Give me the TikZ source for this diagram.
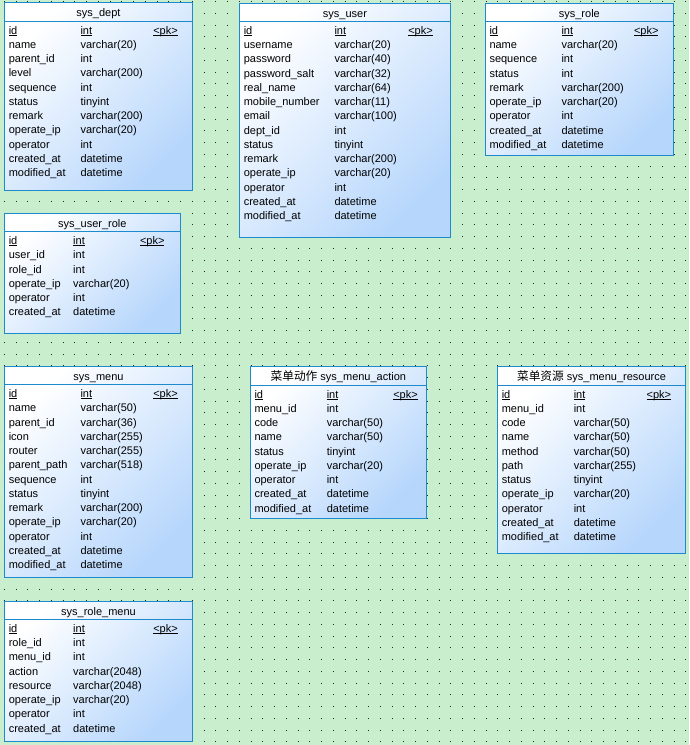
\documentclass[tikz,border=0pt]{standalone}
\usepackage{fontspec}
\setmainfont{Liberation Sans}
\newfontfamily\cjk{Noto Sans CJK SC}
\definecolor{bggreen}{RGB}{200,238,205}
\definecolor{tblblue}{RGB}{28,138,205}
\definecolor{tblfill}{RGB}{182,214,252}
\newcommand\ulx[1]{\setbox0\hbox{#1}\rlap{\rule[-1.6pt]{\wd0}{0.9pt}}\box0}
\tikzset{
  tbl/.style={draw=tblblue, line width=1pt, top color=white, bottom color=tblfill, shading angle=45, inner sep=0pt, outer sep=0pt},
  tblline/.style={draw=tblblue, line width=1pt},
  cell/.style={inner sep=0pt, outer sep=0pt, anchor=base west, font=\fontsize{11}{12}\selectfont, text=black},
  hdr/.style={inner sep=0pt, outer sep=0pt, anchor=base, font=\fontsize{11}{12}\selectfont, text=black},
  gridline/.style={line width=1pt, draw=black!85, dash pattern=on 1pt off 10.75pt}
}
\newcommand\ertable[9]{%
  \node[tbl, minimum width={#4-#2}, minimum height={#5-#3}, anchor=north west] (#1) at (#2,#3) {};
  \draw[tblline] (#2,{#3+18.5}) -- (#4,{#3+18.5});
  \node[hdr] (#1-h) at ({(#2+#4)/2},{#3+14}) {#6};
  \node[cell] (#1-n0) at ({#2+4.5},{#3+31.3}) {\ulx{id}};
  \node[cell] (#1-t0) at ({#7-0.5},{#3+31.3}) {\ulx{int}};
  \node[cell] (#1-k0) at ({#8},{#3+31.3}) {\ulx{<pk>}};
  \foreach \n/\t [count=\i] in {#9} {
    \node[cell] (#1-n\i) at ({#2+4.5},{#3+31.3+14.25*\i}) {\n};
    \node[cell] (#1-t\i) at ({#7-0.5},{#3+31.3+14.25*\i}) {\t};
  }%
}
\begin{document}
\begin{tikzpicture}[x=1pt,y=-1pt]
\fill[bggreen] (0,0) rectangle (689,745);
\useasboundingbox (0,0) rectangle (689,745);
\foreach \j in {0,...,63} {
  \draw[gridline] (3.8,{1.55+11.75*\j}) -- (689,{1.55+11.75*\j});
}
\ertable{dept}{4.3}{2.7}{192.7}{190.7}{sys\_dept}{81}{153.3}{name/varchar(20),parent\_id/int,level/varchar(200),sequence/int,status/tinyint,remark/varchar(200),operate\_ip/varchar(20),operator/int,created\_at/datetime,modified\_at/datetime}
\ertable{user}{239.3}{3}{450.7}{237.3}{sys\_user}{335}{408.3}{username/varchar(20),password/varchar(40),password\_salt/varchar(32),real\_name/varchar(64),mobile\_number/varchar(11),email/varchar(100),dept\_id/int,status/tinyint,remark/varchar(200),operate\_ip/varchar(20),operator/int,created\_at/datetime,modified\_at/datetime}
\ertable{role}{485}{3}{673.7}{155.3}{sys\_role}{562}{634}{name/varchar(20),sequence/int,status/int,remark/varchar(200),operate\_ip/varchar(20),operator/int,created\_at/datetime,modified\_at/datetime}
\ertable{userrole}{4.3}{213.3}{180.3}{333.7}{sys\_user\_role}{73.7}{140}{user\_id/int,role\_id/int,operate\_ip/varchar(20),operator/int,created\_at/datetime}
\ertable{menu}{4.3}{366.3}{192.7}{577.3}{sys\_menu}{81}{153.3}{name/varchar(50),parent\_id/varchar(36),icon/varchar(255),router/varchar(255),parent\_path/varchar(518),sequence/int,status/tinyint,remark/varchar(200),operate\_ip/varchar(20),operator/int,created\_at/datetime,modified\_at/datetime}
\ertable{action}{250}{366.7}{426.7}{518.3}{{\cjk\fontsize{11.7}{13}\selectfont 菜单动作} sys\_menu\_action}{327.3}{393.3}{menu\_id/int,code/varchar(50),name/varchar(50),status/tinyint,operate\_ip/varchar(20),operator/int,created\_at/datetime,modified\_at/datetime}
\ertable{resource}{497.3}{366.7}{685.7}{553.3}{{\cjk\fontsize{11.7}{13}\selectfont 菜单资源} sys\_menu\_resource}{574.3}{646.7}{menu\_id/int,code/varchar(50),name/varchar(50),method/varchar(50),path/varchar(255),status/tinyint,operate\_ip/varchar(20),operator/int,created\_at/datetime,modified\_at/datetime}
\ertable{rolemenu}{4.3}{601}{192.7}{741.7}{sys\_role\_menu}{73.7}{153.3}{role\_id/int,menu\_id/int,action/varchar(2048),resource/varchar(2048),operate\_ip/varchar(20),operator/int,created\_at/datetime}
\end{tikzpicture}
\end{document}
